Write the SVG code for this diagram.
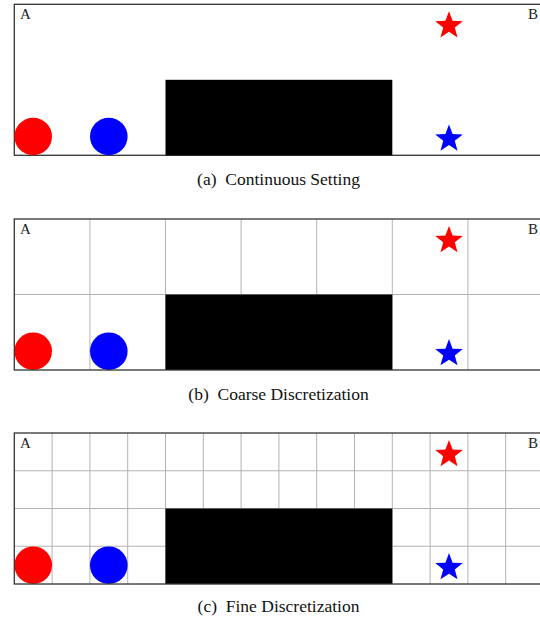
<svg xmlns="http://www.w3.org/2000/svg" width="540" height="619" viewBox="0 0 540 619">
<style>
.frame{fill:none;stroke:#333;stroke-width:1.3}
.grid{stroke:#b3b3b3;stroke-width:1;fill:none}
.obst{fill:#000}
.lbl{font-family:"Liberation Serif",serif;font-size:15px;fill:#222}
.cap{font-family:"Liberation Serif",serif;font-size:17.5px;fill:#111;text-anchor:middle}
</style>
<defs>
<polygon id="star" points="0,-14.5 3.58,-4.93 13.79,-4.48 5.79,1.88 8.52,11.73 0,6.09 -8.52,11.73 -5.79,1.88 -13.79,-4.48 -3.58,-4.93"/>
</defs>
<rect width="540" height="619" fill="#fff"/>

<!-- Panel (a) -->
<g id="panel-a">
<rect class="frame" x="14.3" y="4.3" width="529.2" height="151"/>
<g id="a-obstacle"><rect class="obst" x="165.5" y="79.8" width="226.8" height="75.5"/></g>
<g id="a-red-agent"><circle cx="33.2" cy="136.5" r="18.8" fill="#ff0000"/></g>
<g id="a-blue-agent"><circle cx="108.8" cy="136.5" r="18.8" fill="#0000ff"/></g>
<g id="a-red-goal"><use href="#star" x="449" y="25.7" fill="#ff0000"/></g>
<g id="a-blue-goal"><use href="#star" x="449" y="138.9" fill="#0000ff"/></g>
<text class="lbl" x="20" y="19">A</text>
<text class="lbl" x="528" y="19">B</text>
</g>
<text class="cap" x="278.5" y="185">(a)&#160; Continuous Setting</text>

<!-- Panel (b) -->
<g id="panel-b">
<g class="grid">
<line x1="14.3" y1="294.5" x2="543.5" y2="294.5"/>
<line x1="89.9" y1="219" x2="89.9" y2="370"/>
<line x1="165.5" y1="219" x2="165.5" y2="370"/>
<line x1="241.1" y1="219" x2="241.1" y2="370"/>
<line x1="316.7" y1="219" x2="316.7" y2="370"/>
<line x1="392.3" y1="219" x2="392.3" y2="370"/>
<line x1="467.9" y1="219" x2="467.9" y2="370"/>
</g>
<g id="b-obstacle"><rect class="obst" x="165.5" y="294.5" width="226.8" height="75.5"/></g>
<g id="b-red-agent"><circle cx="33.2" cy="351.2" r="18.8" fill="#ff0000"/></g>
<g id="b-blue-agent"><circle cx="108.8" cy="351.2" r="18.8" fill="#0000ff"/></g>
<g id="b-red-goal"><use href="#star" x="449" y="240.4" fill="#ff0000"/></g>
<g id="b-blue-goal"><use href="#star" x="449" y="353.6" fill="#0000ff"/></g>
<rect class="frame" x="14.3" y="219" width="529.2" height="151"/>
<text class="lbl" x="20" y="233.7">A</text>
<text class="lbl" x="528" y="233.7">B</text>
</g>
<text class="cap" x="278.5" y="400">(b)&#160; Coarse Discretization</text>

<!-- Panel (c) -->
<g id="panel-c">
<g class="grid">
<line x1="14.3" y1="470.75" x2="543.5" y2="470.75"/>
<line x1="14.3" y1="508.5" x2="543.5" y2="508.5"/>
<line x1="14.3" y1="546.25" x2="543.5" y2="546.25"/>
<line x1="52.1" y1="433" x2="52.1" y2="584"/>
<line x1="89.9" y1="433" x2="89.9" y2="584"/>
<line x1="127.7" y1="433" x2="127.7" y2="584"/>
<line x1="165.5" y1="433" x2="165.5" y2="584"/>
<line x1="203.3" y1="433" x2="203.3" y2="584"/>
<line x1="241.1" y1="433" x2="241.1" y2="584"/>
<line x1="278.9" y1="433" x2="278.9" y2="584"/>
<line x1="316.7" y1="433" x2="316.7" y2="584"/>
<line x1="354.5" y1="433" x2="354.5" y2="584"/>
<line x1="392.3" y1="433" x2="392.3" y2="584"/>
<line x1="430.1" y1="433" x2="430.1" y2="584"/>
<line x1="467.9" y1="433" x2="467.9" y2="584"/>
<line x1="505.7" y1="433" x2="505.7" y2="584"/>
</g>
<g id="c-obstacle"><rect class="obst" x="165.5" y="508.5" width="226.8" height="75.5"/></g>
<g id="c-red-agent"><circle cx="33.2" cy="565.2" r="18.8" fill="#ff0000"/></g>
<g id="c-blue-agent"><circle cx="108.8" cy="565.2" r="18.8" fill="#0000ff"/></g>
<g id="c-red-goal"><use href="#star" x="449" y="454.4" fill="#ff0000"/></g>
<g id="c-blue-goal"><use href="#star" x="449" y="567.6" fill="#0000ff"/></g>
<rect class="frame" x="14.3" y="433" width="529.2" height="151"/>
<text class="lbl" x="20" y="447.7">A</text>
<text class="lbl" x="528" y="447.7">B</text>
</g>
<text class="cap" x="278.5" y="612">(c)&#160; Fine Discretization</text>
</svg>
